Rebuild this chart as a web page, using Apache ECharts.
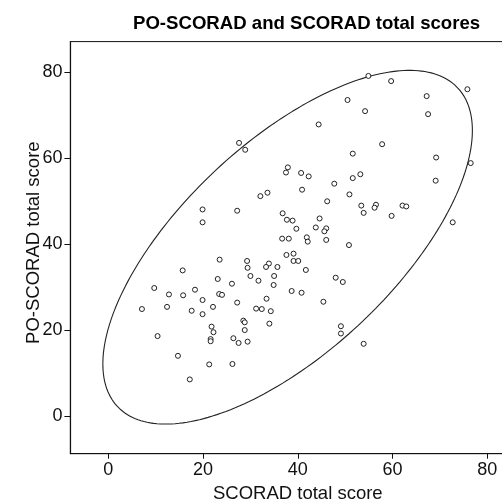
<!DOCTYPE html>
<html><head><meta charset="utf-8">
<script src="https://cdn.jsdelivr.net/npm/echarts@6/dist/echarts.min.js"></script>
<style>html,body{margin:0;padding:0;background:#fff}#c{width:502px;height:502px}</style>
</head><body><div id="c"></div>
<script>
// SCORAD total score (x) and PO-SCORAD total score (y)
const scoradX = [54.9,59.7,75.8,67.2,50.5,54.2,67.5,44.4,27.6,28.9,57.8,51.6,69.2,76.5,37.9,37.5,40.7,42.3,53.2,51.6,69.1,47.7,40.9,32.1,33.6,50.9,46.2,19.9,27.2,53.4,53.9,56.5,56.2,62.1,62.9,59.8,72.7,19.9,36.8,37.7,38.9,44.6,39.7,43.8,46.0,45.6,41.9,42.1,46.0,36.7,38.1,50.8,37.6,39.1,39.1,40.1,23.5,29.3,33.9,33.3,35.7,29.4,41.7,15.7,30.0,35.0,23.1,31.7,48.0,49.5,26.1,34.9,9.7,18.3,12.8,15.8,23.4,24.0,38.7,40.8,19.9,33.4,27.2,45.4,7.1,12.4,22.1,17.6,31.2,32.4,34.3,19.9,28.5,28.8,34.0,21.8,49.1,22.2,28.8,49.1,10.4,21.6,21.6,26.4,27.5,29.4,53.9,14.7,21.3,26.2,17.2];
const poScoradY = [79.2,78.0,76.1,74.5,73.6,71.0,70.3,67.9,63.6,62.0,63.3,61.1,60.2,58.9,57.9,56.7,56.6,55.8,56.3,55.4,54.8,54.1,52.7,51.2,52.0,51.6,50.0,48.1,47.8,49.0,47.3,49.2,48.5,49.0,48.8,46.6,45.1,45.1,47.2,45.7,45.5,46.0,43.6,43.9,43.7,43.0,41.6,40.6,41.0,41.3,41.3,39.8,37.5,37.8,36.1,36.1,36.4,36.1,35.5,34.7,34.7,34.5,34.0,33.9,32.6,32.6,31.9,31.5,32.2,31.2,30.8,30.5,29.8,29.4,28.3,28.1,28.4,28.2,29.1,28.7,27.0,27.3,26.4,26.6,24.9,25.4,25.4,24.5,25.0,24.9,24.4,23.7,22.2,21.8,21.5,20.8,20.9,19.5,20.0,19.2,18.6,17.9,17.4,18.1,17.0,17.3,16.8,14.0,12.0,12.1,8.5];
const xTicks = [0,20,40,60,80];
const yTicks = [0,20,40,60,80];
// ellipse: centre x, centre y, half-width in x, half-height in y, correlation
const ellipseCentre = [37.85, 39.3];
const ellipseHalfExtent = [39.0, 41.2];
const ellipseCorrelation = 0.66;
const titleText = 'PO-SCORAD and SCORAD total scores';
const xName = 'SCORAD total score';
const yName = 'PO-SCORAD total score';

function ellipsePoints(centre, half, rho) {
  const pts = [], s = Math.sqrt(1 - rho*rho);
  for (let k=0;k<=240;k++){
    const t = 2*Math.PI*k/240;
    pts.push([centre[0] + half[0]*Math.cos(t), centre[1] + half[1]*(rho*Math.cos(t) + s*Math.sin(t))]);
  }
  return pts;
}

const font = '"Liberation Sans", Arial, Helvetica, sans-serif';
const chart = echarts.init(document.getElementById('c'), null, {renderer:'canvas'});
chart.setOption({
  animation: false,
  backgroundColor: '#fff',
  title: {
    text: titleText, left: 128, top: 9.5,
    textStyle: {fontFamily: font, fontSize: 18.6, fontWeight: 'bold', color: '#000'}
  },
  grid: {left: 70.4, top: 41.6, width: 454.8, height: 412.1, show: true, borderColor: '#111', borderWidth: 1,
         containLabel: false, outerBoundsMode: 'none'},
  xAxis: {
    type: 'value', min: -8, max: 88,
    name: xName, nameLocation: 'middle', nameGap: 31, nameMoveOverlap: false,
    nameTextStyle: {fontFamily: font, fontSize: 18.5, color: '#111'},
    axisLine: {show: true, onZero: false, lineStyle: {color: '#111', width: 1.2}},
    axisTick: {show: true, length: 5, customValues: xTicks, lineStyle: {color: '#111'}},
    axisLabel: {customValues: xTicks, fontFamily: font, fontSize: 18, color: '#111', margin: 7},
    splitLine: {show: false}
  },
  yAxis: {
    type: 'value', min: -8.8, max: 87.2,
    name: yName, nameLocation: 'middle', nameGap: 27, nameRotate: 90, nameMoveOverlap: false,
    nameTextStyle: {fontFamily: font, fontSize: 18.5, color: '#111', padding: [0,0,0,10]},
    axisLine: {show: true, onZero: false, lineStyle: {color: '#111', width: 1.2}},
    axisTick: {show: true, length: 6, customValues: yTicks, lineStyle: {color: '#111'}},
    axisLabel: {customValues: yTicks, fontFamily: font, fontSize: 18, color: '#111', margin: 8},
    splitLine: {show: false}
  },
  series: [
    {
      type: 'line', data: ellipsePoints(ellipseCentre, ellipseHalfExtent, ellipseCorrelation), showSymbol: false, symbol: 'none',
      smooth: false, silent: true, lineStyle: {color: '#222', width: 1.1}, z: 1
    },
    {
      type: 'scatter', data: scoradX.map((x,i)=>[x, poScoradY[i]]), symbol: 'circle', symbolSize: 5,
      itemStyle: {color: '#fff', borderColor: '#222', borderWidth: 1, opacity: 1}, z: 2
    }
  ]
});
</script>
</body></html>
